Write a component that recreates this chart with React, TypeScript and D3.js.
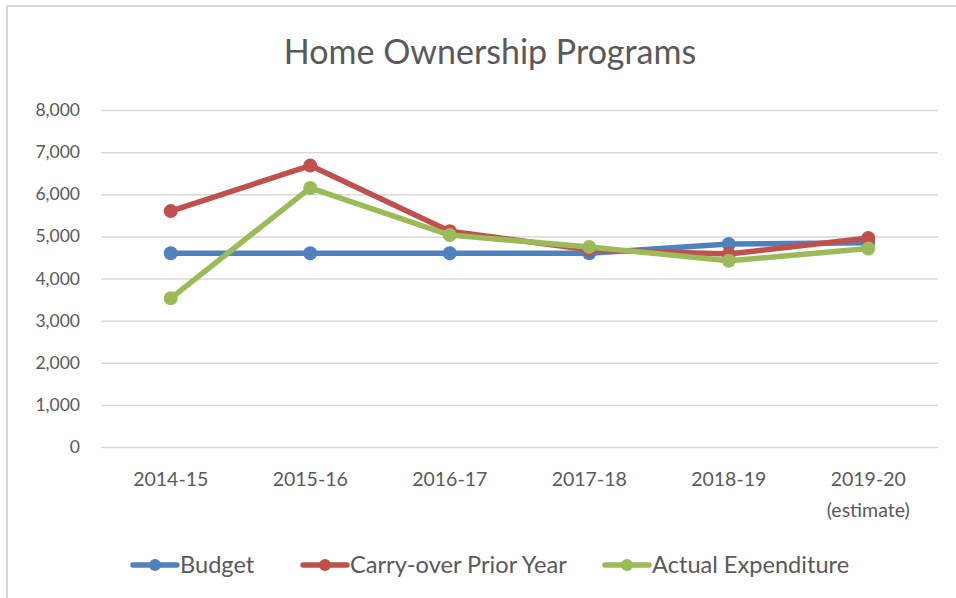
import React, { useEffect, useRef } from "react";
import * as d3 from "d3";

const categories = ["2014-15", "2015-16", "2016-17", "2017-18", "2018-19", "2019-20\n(estimate)"];
const yTicks = [0, 1000, 2000, 3000, 4000, 5000, 6000, 7000, 8000];

const budget = [4600, 4600, 4600, 4600, 4820, 4850];
const carryOver = [5600, 6680, 5120, 4680, 4580, 4960];
const actual = [3530, 6150, 5030, 4750, 4420, 4710];

const seriesNames = ["Budget", "Carry-over Prior Year", "Actual Expenditure"];
const seriesColors = ["#4f81bd", "#c0504d", "#9bbb59"];

const W = 956;
const H = 598;
const FONT = "Lato, 'Open Sans', sans-serif";
const TEXT = "#595959";

const App = () => {
    const svgRef = useRef<SVGSVGElement | null>(null);

    useEffect(() => {
        if (!svgRef.current) return;
        const svg = d3.select(svgRef.current);
        svg.selectAll("*").remove();

        const series = [budget, carryOver, actual];

        // chart area border (only top/left visible in the crop)
        svg.append("rect")
            .attr("x", 7).attr("y", 6)
            .attr("width", W + 20).attr("height", H + 20)
            .attr("fill", "#fff")
            .attr("stroke", "#d9d9d9").attr("stroke-width", 2);

        // title
        svg.append("text")
            .attr("x", 490).attr("y", 64)
            .attr("text-anchor", "middle")
            .attr("font-size", "34px")
            .attr("font-family", FONT)
            .attr("fill", TEXT)
            .text("Home Ownership Programs");

        const x = d3.scaleBand<number>()
            .domain(d3.range(categories.length))
            .range([101, 938]);
        const cx = (i: number) => (x(i) as number) + x.bandwidth() / 2;

        const y = d3.scaleLinear().domain([0, 8000]).range([447, 110]);

        // gridlines + y labels
        const yAxis = svg.append("g").attr("transform", "translate(101,0)");
        yAxis.call(d3.axisLeft(y).tickValues(yTicks).tickSize(-837).tickPadding(21)
            .tickFormat(d => d3.format(",")(d as number)))
            .call(ax => ax.select(".domain").remove())
            .call(ax => ax.selectAll(".tick line").attr("stroke", "#d9d9d9").attr("stroke-width", 1.5))
            .call(ax => ax.selectAll(".tick text")
                .attr("fill", TEXT).attr("font-size", "17.5px").attr("font-family", FONT));

        // x labels
        categories.forEach((c, i) => {
            const t = svg.append("text")
                .attr("x", cx(i)).attr("y", 486)
                .attr("text-anchor", "middle")
                .attr("font-size", "19.5px")
                .attr("font-family", FONT)
                .attr("fill", TEXT);
            c.split("\n").forEach((part, k) => {
                t.append("tspan").attr("x", cx(i)).attr("dy", k === 0 ? 0 : 31).text(part);
            });
        });

        // lines
        const line = d3.line<number>().x((_, i) => cx(i)).y(d => y(d));
        series.forEach((vals, s) => {
            svg.append("path")
                .datum(vals)
                .attr("d", line)
                .attr("fill", "none")
                .attr("stroke", seriesColors[s])
                .attr("stroke-width", 5.5)
                .attr("stroke-linejoin", "round")
                .attr("stroke-linecap", "round");
            svg.selectAll(null)
                .data(vals)
                .enter()
                .append("circle")
                .attr("cx", (_, i) => cx(i))
                .attr("cy", d => y(d))
                .attr("r", 7)
                .attr("fill", seriesColors[s]);
        });

        // legend
        const legendX = [133, 303, 605];
        seriesNames.forEach((name, s) => {
            const g = svg.append("g").attr("transform", `translate(${legendX[s]},565)`);
            g.append("line")
                .attr("x1", 0).attr("x2", 44).attr("y1", 0).attr("y2", 0)
                .attr("stroke", seriesColors[s]).attr("stroke-width", 5.5)
                .attr("stroke-linecap", "round");
            g.append("circle").attr("cx", 22).attr("cy", 0).attr("r", 6).attr("fill", seriesColors[s]);
            g.append("text")
                .attr("x", 47).attr("y", 8)
                .attr("font-size", "23.6px")
                .attr("font-family", FONT)
                .attr("fill", TEXT)
                .text(name);
        });
    }, []);

    return (
        <div style={{ position: "absolute", left: 0, top: 0 }}>
            <svg ref={svgRef} width={W} height={H} style={{ display: "block", background: "#fff" }} />
        </div>
    );
};

export default App;
